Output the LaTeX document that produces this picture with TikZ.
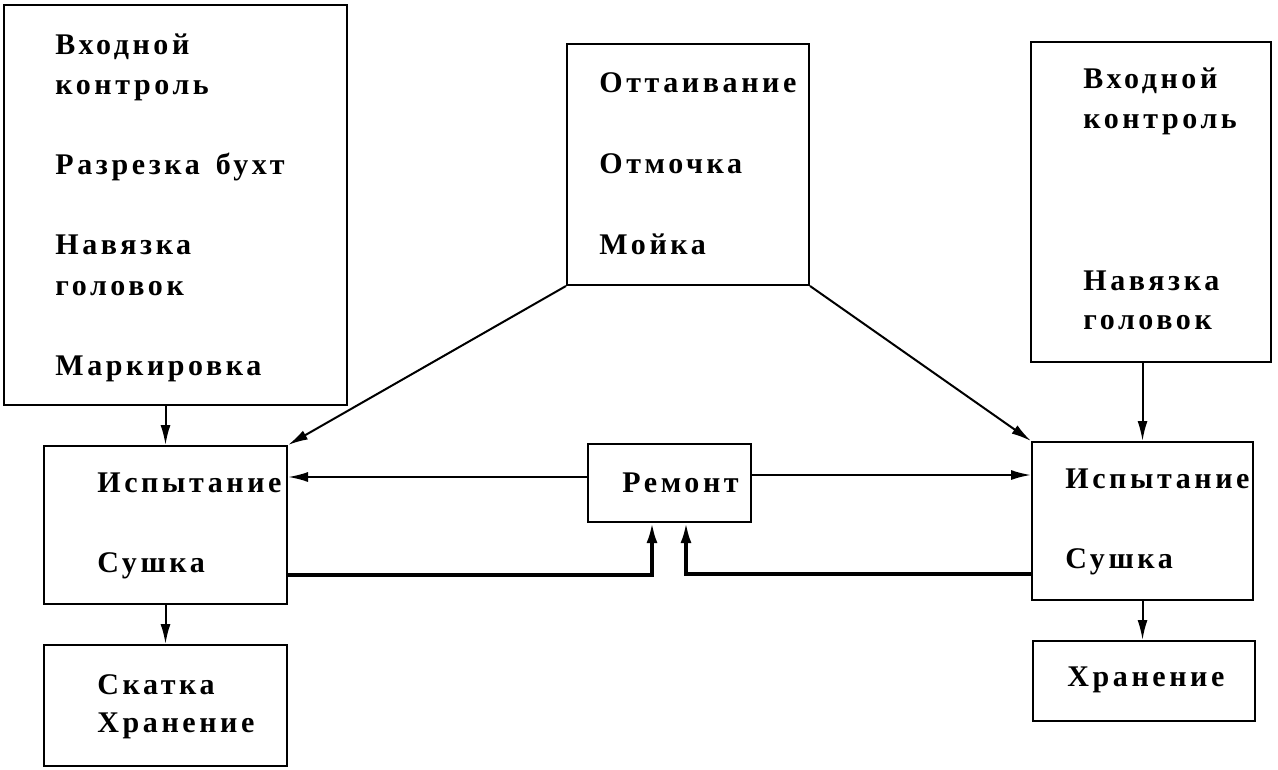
\documentclass[tikz,border=0pt]{standalone}
\usepackage{fontspec}
\setmainfont{Liberation Serif}[LetterSpace=12]
\usetikzlibrary{arrows.meta}
\begin{document}
\begin{tikzpicture}[x=0.5pt,y=-0.5pt,
  box/.style={draw,line width=1pt,rectangle,inner sep=0pt},
  lbl/.style={anchor=base west,inner sep=0pt,font=\fontsize{15pt}{18pt}\selectfont\bfseries},
  arr/.style={line width=1pt,-{Latex[length=10pt,width=5pt]}},
  arrthick/.style={line width=1.6pt,-{Latex[length=10pt,width=5.5pt]}}]
\useasboundingbox (0,0) rectangle (1278,770);
% boxes
\node[box,minimum width=171.5pt,minimum height=200pt] (A) at (175.5,205) {};
\node[box,minimum width=121.5pt,minimum height=79pt] (B) at (165.5,525) {};
\node[box,minimum width=121.5pt,minimum height=60.5pt] (C) at (165.5,705.5) {};
\node[box,minimum width=121pt,minimum height=120.5pt] (D) at (688,164.5) {};
\node[box,minimum width=81.5pt,minimum height=39pt] (E) at (669.5,483) {};
\node[box,minimum width=120pt,minimum height=160pt] (F) at (1151,202) {};
\node[box,minimum width=110.5pt,minimum height=79pt] (G) at (1142.5,521) {};
\node[box,minimum width=111pt,minimum height=40pt] (H) at (1144,681) {};
% texts
\node[lbl] (a1) at (55,55) {Входной};
\node[lbl] (a2) at (55,95) {контроль};
\node[lbl] (a3) at (55,175) {Разрезка\hspace{8pt}бухт};
\node[lbl] (a4) at (55,255) {Навязка};
\node[lbl] (a5) at (55,295) {головок};
\node[lbl] (a6) at (55,375) {Маркировка};
\node[lbl] (b1) at (97,492) {Испытание};
\node[lbl] (b2) at (97,572) {Сушка};
\node[lbl] (c1) at (97,694) {Скатка};
\node[lbl] (c2) at (97,732) {Хранение};
\node[lbl] (d1) at (599,93) {Оттаивание};
\node[lbl] (d2) at (599,174) {Отмочка};
\node[lbl] (d3) at (599,254) {Мойка};
\node[lbl] (e1) at (622,492) {Ремонт};
\node[lbl] (f1) at (1083,89) {Входной};
\node[lbl] (f2) at (1083,129) {контроль};
\node[lbl] (f3) at (1083,290) {Навязка};
\node[lbl] (f4) at (1083,329) {головок};
\node[lbl] (g1) at (1065,488) {Испытание};
\node[lbl] (g2) at (1065,568) {Сушка};
\node[lbl] (h1) at (1067,686) {Хранение};
% connectors
\draw[arr] (A.south -| B.north) -- (B.north);
\draw[arr] (B.south) -- (C.north);
\draw[arr] (F.south -| G.north) -- (G.north);
\draw[arr] (G.south) -- (G.south |- H.north);
\draw[arr] (D.south west) -- (B.north east);
\draw[arr] (D.south east) -- (G.north west);
\draw[arr] ([yshift=3pt]E.west) -- ([yshift=3pt]E.west -| B.east);
\draw[arr] ([yshift=4pt]E.east) -- ([yshift=4pt]E.east -| G.west);
\draw[arrthick] ([yshift=-25pt]B.east) -| ([xshift=-8.75pt]E.south);
\draw[arrthick] ([yshift=-26.5pt]G.west) -| ([xshift=8.25pt]E.south);
\end{tikzpicture}
\end{document}
